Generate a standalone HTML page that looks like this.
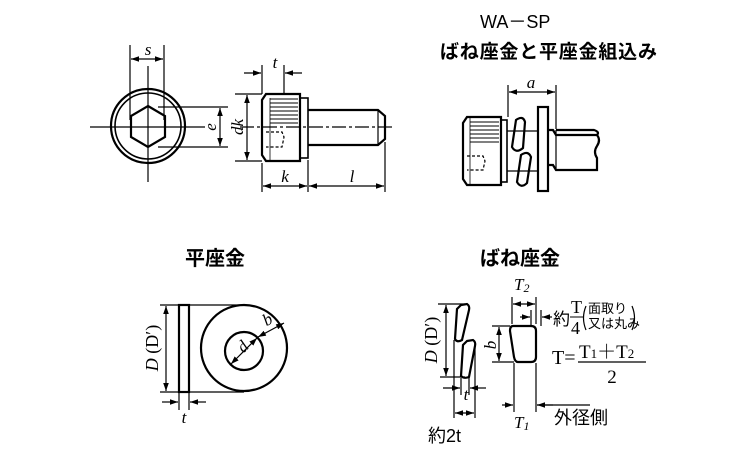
<!DOCTYPE html>
<html><head><meta charset="utf-8"><style>
html,body{margin:0;padding:0;background:#fff;}
svg{display:block;}
.j{font-family:"Liberation Sans","Noto Sans CJK JP",sans-serif;}
.s{font-family:"Liberation Serif","Noto Serif CJK SC",serif;}
</style></head><body>
<svg width="750" height="450" viewBox="0 0 750 450" xmlns="http://www.w3.org/2000/svg">
<defs>
<marker id="a" viewBox="0 0 10 10" refX="10" refY="5" markerWidth="8" markerHeight="8" orient="auto-start-reverse" markerUnits="userSpaceOnUse"><path d="M0,1.5 L10,5 L0,8.5 z" fill="#000"/></marker>
</defs>
<g fill="none" stroke="#000" stroke-width="1.2">
<!-- front view -->
<circle cx="148" cy="126" r="37" stroke-width="2.2"/>
<circle cx="148" cy="126" r="33" stroke-width="1.6"/>
<polygon points="148,106 165,116 165,137 148,147 131,137 131,116" stroke-width="2.2"/>
<line x1="90" y1="127" x2="205" y2="127"/>
<line x1="148" y1="66" x2="148" y2="182"/>
<line x1="130" y1="45" x2="130" y2="120"/>
<line x1="164" y1="45" x2="164" y2="120"/>
<line x1="131" y1="59" x2="163" y2="59" marker-start="url(#a)" marker-end="url(#a)"/>
<line x1="158" y1="107" x2="228" y2="107"/>
<line x1="158" y1="147" x2="228" y2="147"/>
<line x1="220" y1="108" x2="220" y2="146" marker-start="url(#a)" marker-end="url(#a)"/>
<!-- side view -->
<path d="M266,94 L300,94 L300,161 L266,161 L262,155 L262,100 Z" stroke-width="2.2"/>
<rect x="300" y="98" width="8" height="60" stroke-width="1.6"/>
<path d="M308,110 L378,110 L385,116 L385,139 L378,145 L308,145" stroke-width="2.2"/>
<line x1="378" y1="110" x2="378" y2="145"/>
<g stroke-width="1"><line x1="270" y1="99" x2="298" y2="99"/><line x1="270" y1="103" x2="298" y2="103"/><line x1="270" y1="107" x2="298" y2="107"/><line x1="270" y1="111" x2="298" y2="111"/><line x1="270" y1="115" x2="298" y2="115"/><line x1="270" y1="119" x2="298" y2="119"/><line x1="270" y1="123" x2="298" y2="123"/></g>
<line x1="270" y1="98" x2="270" y2="160" stroke-width="0.8"/>
<path d="M266,132 L282,132 L284,137 L282,147 L266,147" stroke-dasharray="3,2"/>
<line x1="240" y1="127" x2="395" y2="127" stroke-dasharray="14,3,3,3"/>
<line x1="235" y1="94" x2="262" y2="94"/>
<line x1="235" y1="161" x2="262" y2="161"/>
<line x1="247" y1="95" x2="247" y2="160" marker-start="url(#a)" marker-end="url(#a)"/>
<line x1="262" y1="65" x2="262" y2="94"/>
<line x1="284" y1="65" x2="284" y2="94"/>
<line x1="244" y1="73" x2="261" y2="73" marker-end="url(#a)"/>
<line x1="302" y1="73" x2="285" y2="73" marker-end="url(#a)"/>
<line x1="262" y1="163" x2="262" y2="192"/>
<line x1="308" y1="160" x2="308" y2="192"/>
<line x1="385" y1="142" x2="385" y2="192"/>
<line x1="263" y1="186" x2="307" y2="186" marker-start="url(#a)" marker-end="url(#a)"/>
<line x1="309" y1="186" x2="384" y2="186" marker-start="url(#a)" marker-end="url(#a)"/>
<!-- assembly -->
<path d="M467,117 L501,117 L501,185 L467,185 L463,179 L463,123 Z" stroke-width="2.2"/>
<rect x="501" y="120" width="6" height="62" stroke-width="1.6"/>
<g stroke-width="1"><line x1="470" y1="122" x2="499" y2="122"/><line x1="470" y1="126" x2="499" y2="126"/><line x1="470" y1="130" x2="499" y2="130"/><line x1="470" y1="134" x2="499" y2="134"/><line x1="470" y1="138" x2="499" y2="138"/><line x1="470" y1="142" x2="499" y2="142"/></g>
<line x1="470" y1="117" x2="470" y2="185" stroke-width="0.8"/>
<path d="M467,156 L483,156 L485,161 L483,170 L467,170" stroke-dasharray="3,2"/>
<path d="M516,120 Q523,115 525,122 L523,148 Q516,154 512,147 Z" stroke-width="2.2"/>
<path d="M521,155 Q528,150 531,157 L527,183 Q521,189 517,182 Z" stroke-width="2.2"/>
<line x1="507" y1="131" x2="538" y2="131"/><line x1="507" y1="171" x2="538" y2="171"/>
<rect x="538" y="107" width="10" height="84" stroke-width="2.2"/>
<path d="M548,130 L553,130 L556,135 L597,135 Q601,140 597,146 Q593,152 597,158 L597,170 L556,170 L553,165 L548,165" stroke-width="2.2"/>
<path d="M556,130 L594,130 Q600,132 597,135" stroke-width="2.2"/>
<line x1="556" y1="130" x2="556" y2="170"/>
<line x1="508" y1="85" x2="508" y2="117"/>
<line x1="556" y1="85" x2="556" y2="129"/>
<line x1="509" y1="92" x2="555" y2="92" marker-start="url(#a)" marker-end="url(#a)"/>
<!-- flat washer -->
<rect x="179" y="305" width="10" height="87" stroke-width="2.2"/>
<circle cx="244" cy="348" r="43" stroke-width="2.2"/>
<circle cx="244" cy="351" r="19" stroke-width="2.2"/>
<line x1="160" y1="305" x2="244" y2="305"/>
<line x1="160" y1="392" x2="244" y2="392"/>
<line x1="166" y1="306" x2="166" y2="391" marker-start="url(#a)" marker-end="url(#a)"/>
<line x1="179" y1="392" x2="179" y2="410"/><line x1="189" y1="392" x2="189" y2="410"/>
<line x1="162" y1="402" x2="178" y2="402" marker-end="url(#a)"/>
<line x1="206" y1="402" x2="190" y2="402" marker-end="url(#a)"/>
<line x1="231" y1="364" x2="257" y2="338" marker-start="url(#a)" marker-end="url(#a)"/>
<line x1="258" y1="337" x2="284" y2="323" marker-start="url(#a)" marker-end="url(#a)"/>
<!-- spring washer -->
<path d="M461,305 L467,304 Q470,306 469,310 L462,340 Q457,343 455,339 L457,309 Z" stroke-width="2.2"/>
<path d="M467,341 L473,340 Q476,342 475,346 L469,377 Q464,379 461,376 L463,345 Z" stroke-width="2.2"/>
<line x1="438" y1="304" x2="465" y2="304"/>
<line x1="440" y1="377" x2="465" y2="377"/>
<line x1="446" y1="305" x2="446" y2="376" marker-start="url(#a)" marker-end="url(#a)"/>
<line x1="454" y1="340" x2="454" y2="418"/><line x1="475" y1="348" x2="475" y2="418"/><line x1="461" y1="378" x2="461" y2="395"/><line x1="469" y1="378" x2="469" y2="395"/>
<line x1="443" y1="388" x2="460" y2="388" marker-end="url(#a)"/>
<line x1="486" y1="388" x2="470" y2="388" marker-end="url(#a)"/>
<line x1="455" y1="413" x2="474" y2="413" marker-start="url(#a)" marker-end="url(#a)"/>
<path d="M513,326 L531,326 Q536,326 536,331 L536,357 Q536,362 531,362 L518,362 Q515,362 514,357 L510,331 Q510,326 513,326 Z" stroke-width="2.2"/>
<line x1="512" y1="297" x2="512" y2="324"/>
<line x1="536" y1="297" x2="536" y2="324"/>
<line x1="513" y1="304" x2="535" y2="304" marker-start="url(#a)" marker-end="url(#a)"/>
<line x1="531" y1="310" x2="531" y2="325"/>
<line x1="541" y1="310" x2="541" y2="326"/>
<line x1="520" y1="317" x2="530" y2="317" marker-end="url(#a)"/>
<line x1="552" y1="317" x2="542" y2="317" marker-end="url(#a)"/>
<line x1="492" y1="326" x2="510" y2="326"/><line x1="492" y1="362" x2="514" y2="362"/>
<line x1="499" y1="327" x2="499" y2="361" marker-start="url(#a)" marker-end="url(#a)"/>
<line x1="514" y1="363" x2="514" y2="412"/><line x1="536" y1="363" x2="536" y2="412"/>
<line x1="502" y1="405" x2="513" y2="405" marker-end="url(#a)"/>
<line x1="553" y1="405" x2="537" y2="405" marker-end="url(#a)"/>
<line x1="537" y1="405" x2="590" y2="405"/>
<line x1="578" y1="362" x2="646" y2="362"/>
<path d="M586,306 Q581,318 586,330"/><path d="M632,306 Q637,318 632,330"/>
</g>
<g class="s" font-style="italic" font-size="17" fill="#000">
<text x="148" y="55" text-anchor="middle">s</text>
<text transform="translate(216,127) rotate(-90)" text-anchor="middle">e</text>
<text transform="translate(243,127) rotate(-90)" text-anchor="middle">dk</text>
<text x="275" y="68" text-anchor="middle">t</text>
<text x="285" y="182" text-anchor="middle">k</text>
<text x="352" y="182" text-anchor="middle">l</text>
<text x="531" y="88" text-anchor="middle">a</text>
<text x="184" y="423" text-anchor="middle">t</text>
<text x="240" y="355" transform="rotate(-45 240 350)">d</text>
<text x="264" y="327" transform="rotate(-30 264 322)">b</text>
<text x="466" y="400" text-anchor="middle">t</text>
<text transform="translate(496,345) rotate(-90)" text-anchor="middle">b</text>
<text x="514" y="290">T<tspan font-size="12" dy="2">2</tspan></text>
<text x="514" y="428">T<tspan font-size="12" dy="2">1</tspan></text>
</g>
<g class="s" font-size="18" fill="#000">
<text transform="translate(158,348) rotate(-90)" text-anchor="middle"><tspan font-style="italic">D</tspan> (D′)</text>
<text transform="translate(437,340) rotate(-90)" text-anchor="middle"><tspan font-style="italic">D</tspan> (D′)</text>
<text x="553" y="325" font-size="17" class="j">約</text>
<text x="571" y="313">T</text>
<text x="571" y="334">4</text>
<line x1="570" y1="317" x2="584" y2="317" stroke="#000"/>
<text x="588" y="313" font-size="13" class="j">面取り</text>
<text x="588" y="328" font-size="13" class="j">又は丸み</text>
<text x="552" y="364" font-size="20">T=</text>
<text x="579" y="358" font-size="19">T<tspan font-size="13">1</tspan>＋T<tspan font-size="13">2</tspan></text>
<text x="612" y="383" font-size="19" text-anchor="middle">2</text>
<text x="554" y="424" font-size="18" class="j">外径側</text>
<text x="428" y="442" font-size="18" class="j">約2t</text>
</g>
<g class="j" fill="#000">
<text x="480" y="28" font-size="18">WA－SP</text>
<text x="440" y="58" font-size="19" font-weight="bold" textLength="217">ばね座金と平座金組込み</text>
<text x="215" y="265" font-size="20" font-weight="bold" text-anchor="middle">平座金</text>
<text x="520" y="265" font-size="20" font-weight="bold" text-anchor="middle">ばね座金</text>
</g>
</svg>
</body></html>
